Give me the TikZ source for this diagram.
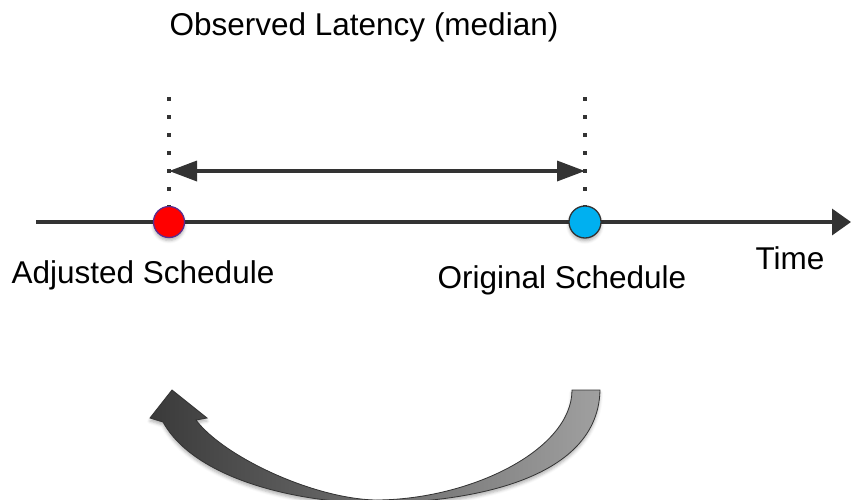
\documentclass[tikz,border=0pt]{standalone}
\usepackage{fontspec}
\setmainfont{Liberation Sans}
\usetikzlibrary{arrows.meta,shadows.blur}
\definecolor{ink}{HTML}{333333}
\definecolor{schedred}{HTML}{FF0000}
\definecolor{schedrim}{HTML}{5B2D8E}
\definecolor{schedblue}{HTML}{00B0F0}
\definecolor{arcdark}{HTML}{3A3A3A}
\definecolor{arclight}{HTML}{A0A0A0}

\begin{document}
\begin{tikzpicture}[x=1pt,y=-1pt,
  label/.style={font=\fontsize{31.5}{36}\selectfont, anchor=base, inner sep=0pt},
  guide/.style={ink, line width=4pt, dash pattern=on 4pt off 14pt},
  softshadow/.style={blur shadow={shadow xshift=0pt, shadow yshift=-3pt,
      shadow blur radius=3pt, shadow opacity=30}},
  event/.style={circle, inner sep=0pt, minimum size=31pt, line width=1.3pt, softshadow},
  span/.style={ink, line width=3.5pt,
      {Triangle[length=28pt,width=20pt]}-{Triangle[length=28pt,width=20pt]}},
  axis/.style={ink, line width=3.5pt, -{Triangle[length=19pt,width=26pt]}},
]
\useasboundingbox (0,0) rectangle (851,499);

% time axis
\coordinate (t0) at (36,222);
\coordinate (t1) at (851,222);
\draw[axis] (t0) -- (t1);

% the two schedule points
\node[event, fill=schedred, draw=schedrim] (adj) at (169,222) {};
\node[event, fill=schedblue, draw=ink, minimum size=32pt] (orig) at (585,222) {};

% dotted guides above the points
\coordinate (g1) at (169,97);
\coordinate (g2) at (585,97);
\draw[guide] (g1) -- (adj.north);
\draw[guide] (g2) -- (orig.north);

% observed latency span
\coordinate (m1) at (169,171);
\coordinate (m2) at (585,171);
\draw[span] (m1) -- (m2);

% labels
\node[label] (title)   at (364,35)  {Observed Latency (median)};
\node[label] (adjlbl)  at (143,283) {Adjusted Schedule};
\node[label] (origlbl) at (562,288) {Original Schedule};
\node[label] (timelbl) at (790,269) {Time};

% curved arrow from the original back to the adjusted schedule
\path[draw=ink, line width=0.8pt, left color=arcdark, right color=arclight, softshadow]
  (600,390) .. controls (598,490) and (440,503) .. (375,503)
  .. controls (300,503) and (195,480) .. (163,422)
  -- (150,418) -- (172,390) -- (207,418) -- (196,420)
  .. controls (222,455) and (310,498) .. (375,500)
  .. controls (470,500) and (572,450) .. (572,390) -- cycle;
\end{tikzpicture}
\end{document}
